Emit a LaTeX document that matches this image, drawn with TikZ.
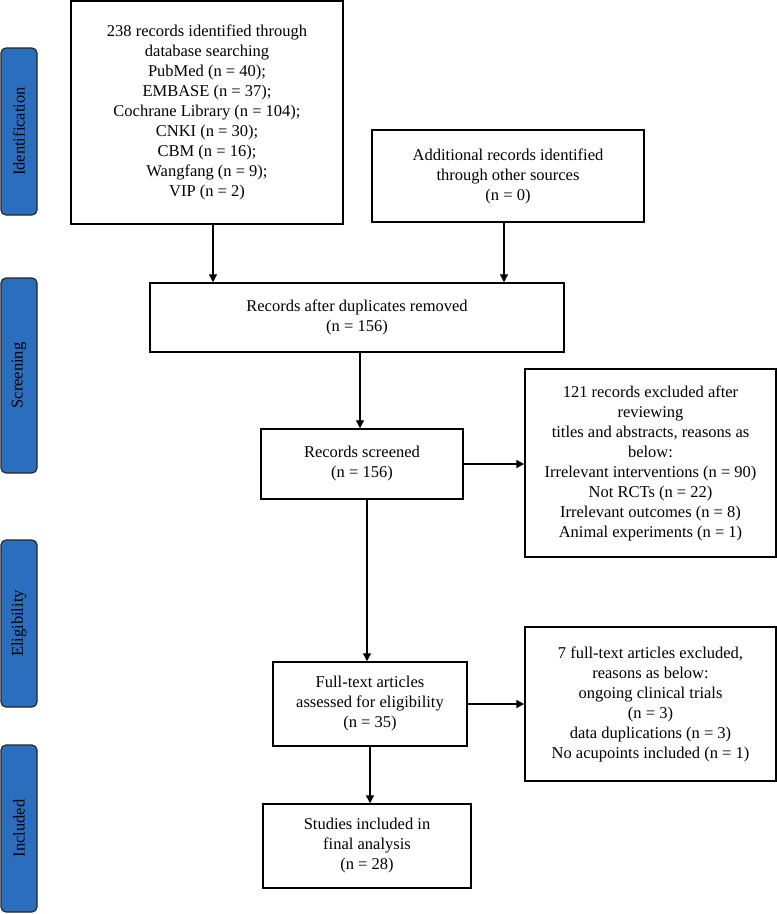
\documentclass[tikz,border=0pt]{standalone}
\usepackage{fontspec}
\setmainfont{Liberation Serif}
\usetikzlibrary{arrows.meta}
\definecolor{tabblue}{RGB}{44,110,190}
\begin{document}
\begin{tikzpicture}[x=1pt,y=-1pt,
  box/.style={draw=black, line width=1.5pt, fill=white, align=center, inner sep=0pt,
    font=\fontsize{16.5}{20}\selectfont},
  tab/.style={draw=black!85, line width=1.2pt, fill=tabblue, rounded corners=5pt, inner sep=0pt,
    font=\fontsize{16.5}{20}\selectfont, rotate=90},
  arr/.style={line width=1.3pt, -{Triangle[length=8pt,width=8pt]}}]
\useasboundingbox (0,0) rectangle (777,914);

% phase tabs
\node[tab, minimum width=167pt, minimum height=36pt] (t1) at (19,131.5) {Identification};
\node[tab, minimum width=195pt, minimum height=36pt] (t2) at (19,375.5) {Screening};
\node[tab, minimum width=167pt, minimum height=36pt] (t3) at (19,623.5) {Eligibility};
\node[tab, minimum width=167pt, minimum height=36pt] (t4) at (19,828.5) {Included};

% boxes
\node[box, minimum width=272pt, minimum height=223pt] (b1) at (207,112.5)
  {238 records identified through\\database searching\\PubMed (n = 40);\\EMBASE (n = 37);\\Cochrane Library (n = 104);\\CNKI (n = 30);\\CBM (n = 16);\\Wangfang (n = 9);\\VIP (n = 2)};
\node[box, minimum width=272pt, minimum height=92pt] (b2) at (508,176)
  {Additional records identified\\through other sources\\(n = 0)};
\node[box, minimum width=414pt, minimum height=69pt] (b3) at (357,317.5)
  {Records after duplicates removed\\(n = 156)};
\node[box, minimum width=202pt, minimum height=70pt] (b4) at (362,464)
  {Records screened\\(n = 156)};
\node[box, minimum width=251pt, minimum height=188pt] (b5) at (650.5,463)
  {121 records excluded after\\reviewing\\titles and abstracts, reasons as\\below:\\Irrelevant interventions (n = 90)\\Not RCTs (n = 22)\\Irrelevant outcomes (n = 8)\\Animal experiments (n = 1)};
\node[box, minimum width=194pt, minimum height=84pt] (b6) at (370,704)
  {Full-text articles\\assessed for eligibility\\(n = 35)};
\node[box, minimum width=251pt, minimum height=154pt] (b7) at (650.5,704)
  {7 full-text articles excluded,\\reasons as below:\\ongoing clinical trials\\(n = 3)\\data duplications (n = 3)\\No acupoints included (n = 1)};
\node[box, minimum width=208pt, minimum height=84pt] (b8) at (367,846)
  {Studies included in\\final analysis\\(n = 28)};

% connectors
\draw[arr] ([xshift=6pt]b1.south) -- ([xshift=6pt]b1.south |- b3.north);
\draw[arr] ([xshift=-4pt]b2.south) -- ([xshift=-4pt]b2.south |- b3.north);
\draw[arr] ([xshift=3pt]b3.south) -- ([xshift=3pt]b3.south |- b4.north);
\draw[arr] (b4.east) -- (b4.east -| b5.west);
\draw[arr] ([xshift=5pt]b4.south) -- ([xshift=5pt]b4.south |- b6.north);
\draw[arr] (b6.east) -- (b6.east -| b7.west);
\draw[arr] (b6.south) -- (b6.south |- b8.north);
\end{tikzpicture}
\end{document}
